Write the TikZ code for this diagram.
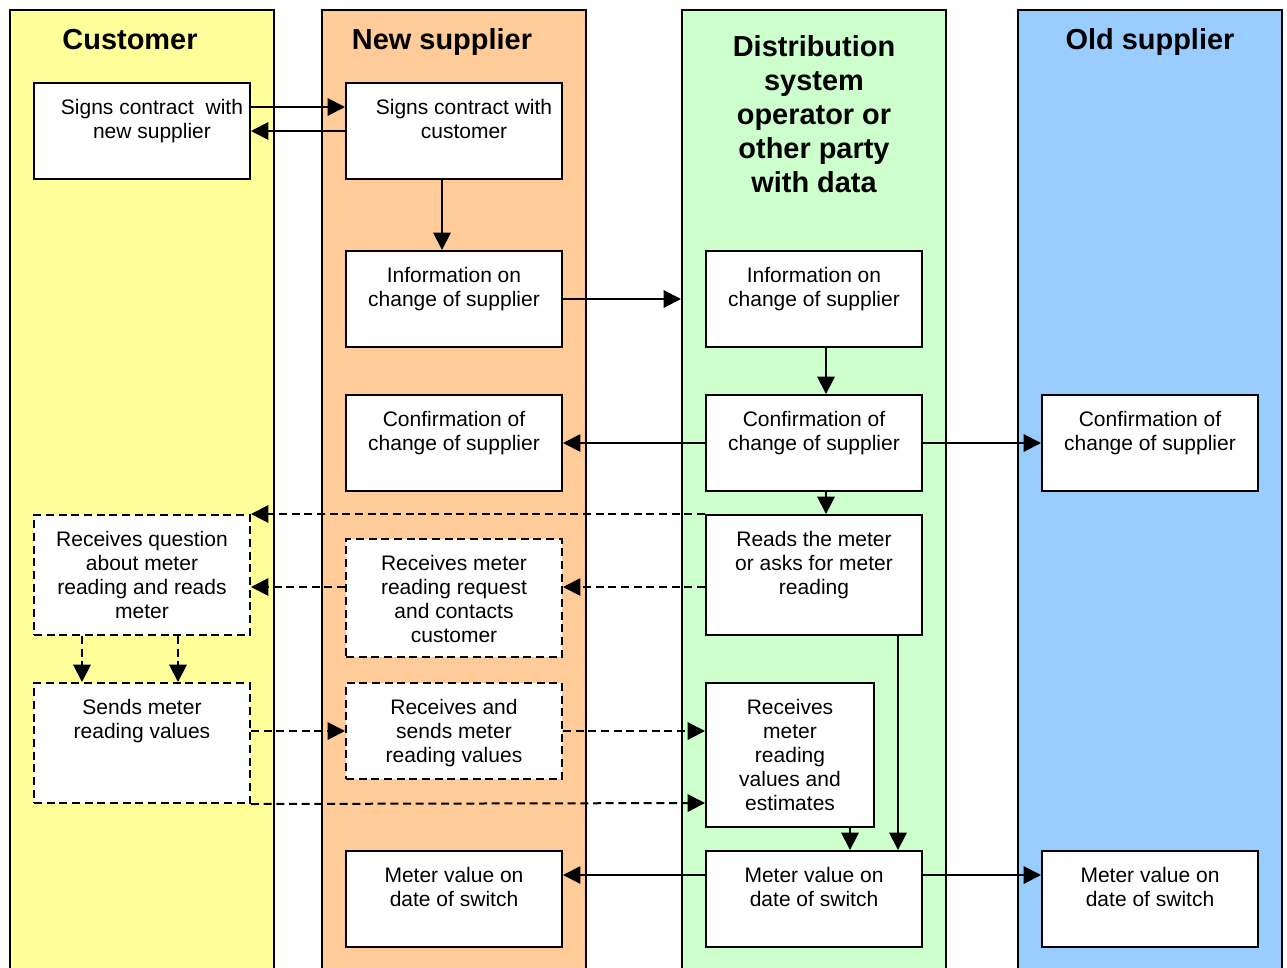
\documentclass[tikz,border=0pt]{standalone}
\usepackage{fontspec}
\setmainfont{Liberation Sans}
\usetikzlibrary{arrows.meta,calc}
\definecolor{cyel}{HTML}{FFFF99}
\definecolor{corg}{HTML}{FFCC99}
\definecolor{cgrn}{HTML}{CCFFCC}
\definecolor{cblu}{HTML}{99CCFF}
\tikzset{
  lane/.style={draw, line width=1.5pt, minimum width=198pt, minimum height=735pt, inner sep=0},
  hdr/.style={font=\fontsize{21.7pt}{25.5pt}\selectfont\bfseries, inner sep=0},
  box/.style={draw, fill=white, line width=1.5pt, minimum width=162pt, minimum height=72pt, inner sep=0},
  dbox/.style={box, dash pattern=on 6pt off 3.5pt},
  txt/.style={font=\fontsize{15.75pt}{18pt}\selectfont, align=center, anchor=north, inner sep=0},
  arr/.style={line width=1.5pt, -{Triangle[length=13pt,width=13pt]}},
  darr/.style={arr, dash pattern=on 6pt off 3.5pt},
}
\begin{document}
\begin{tikzpicture}[x=0.75pt,y=-0.75pt]
\clip (0,0) rectangle (1287,967);
% lanes
\node[lane, fill=cyel] (lc) at (142,500) {};
\node[lane, fill=corg] (ln) at (454,500) {};
\node[lane, fill=cgrn] (ld) at (814,500) {};
\node[lane, fill=cblu] (lo) at (1150,500) {};
% headers
\node[hdr, anchor=base] (hc) at (130,49.5) {Customer};
\node[hdr, anchor=base] (hn) at (442,49.5) {New supplier};
\node[hdr, anchor=north, align=center] (hd) at (814,35) {Distribution\\system\\operator or\\other party\\with data};
\node[hdr, anchor=base] (ho) at (1150,49.5) {Old supplier};
% boxes
\node[box] (c1) at (142,131) {};
\node[box] (n1) at (454,131) {};
\node[box] (n2) at (454,299) {};
\node[box] (d1) at (814,299) {};
\node[box] (n3) at (454,443) {};
\node[box] (d2) at (814,443) {};
\node[box] (o1) at (1150,443) {};
\node[dbox, minimum height=90pt] (c2) at (142,575) {};
\node[box, minimum height=90pt] (d3) at (814,575) {};
\node[dbox, minimum height=88.5pt] (n4) at (454,598) {};
\node[dbox, minimum height=90pt] (c3) at (142,743) {};
\node[dbox] (n5) at (454,731) {};
\node[box, minimum width=126pt, minimum height=108pt] (d4) at (790,755) {};
\node[box] (n6) at (454,899) {};
\node[box] (d5) at (814,899) {};
\node[box] (o2) at (1150,899) {};
% texts
\node[txt] (c1t) at ($(c1.north)+(10,17)$) {Signs contract~ with\\new supplier};
\node[txt] (n1t) at ($(n1.north)+(10,17)$) {Signs contract with\\customer};
\node[txt] (n2t) at ($(n2.north)+(0,17)$) {Information on\\change of supplier};
\node[txt] (d1t) at ($(d1.north)+(0,17)$) {Information on\\change of supplier};
\node[txt] (n3t) at ($(n3.north)+(0,17)$) {Confirmation of\\change of supplier};
\node[txt] (d2t) at ($(d2.north)+(0,17)$) {Confirmation of\\change of supplier};
\node[txt] (o1t) at ($(o1.north)+(0,17)$) {Confirmation of\\change of supplier};
\node[txt] (c2t) at ($(c2.north)+(0,17)$) {Receives question\\about meter\\reading and reads\\meter};
\node[txt] (d3t) at ($(d3.north)+(0,17)$) {Reads the meter\\or asks for meter\\reading};
\node[txt] (n4t) at ($(n4.north)+(0,17)$) {Receives meter\\reading request\\and contacts\\customer};
\node[txt] (c3t) at ($(c3.north)+(0,17)$) {Sends meter\\reading values};
\node[txt] (n5t) at ($(n5.north)+(0,17)$) {Receives and\\sends meter\\reading values};
\node[txt] (d4t) at ($(d4.north)+(0,17)$) {Receives\\meter\\reading\\values and\\estimates};
\node[txt] (n6t) at ($(n6.north)+(0,17)$) {Meter value on\\date of switch};
\node[txt] (d5t) at ($(d5.north)+(0,17)$) {Meter value on\\date of switch};
\node[txt] (o2t) at ($(o2.north)+(0,17)$) {Meter value on\\date of switch};
% connectors
\draw[arr] ($(c1.east)+(0,-24)$) -- ($(n1.west)+(0,-24)$);
\draw[arr] (n1.west) -- (c1.east);
\draw[arr] ($(n1.south)+(-12,0)$) -- ($(n2.north)+(-12,0)$);
\draw[arr] (n2.east) -- (n2.east -| ld.west);
\draw[arr] ($(d1.south)+(12,0)$) -- ($(d2.north)+(12,0)$);
\draw[arr] (d2.west) -- (n3.east);
\draw[arr] (d2.east) -- (o1.west);
\draw[arr] ($(d2.south)+(12,0)$) -- ($(d3.north)+(12,0)$);
\draw[darr] (d3.north west) -- (c2.north east);
\draw[darr] ($(d3.west)+(0,12)$) -- ($(n4.east)+(0,-11)$);
\draw[darr] ($(n4.west)+(0,-11)$) -- ($(c2.east)+(0,12)$);
\draw[darr] ($(c2.south)+(-60,0)$) -- ($(c3.north)+(-60,0)$);
\draw[darr] ($(c2.south)+(36,0)$) -- ($(c3.north)+(36,0)$);
\draw[darr] ($(c3.east)+(0,-12)$) -- (n5.west);
\draw[darr] (n5.east) -- ($(d4.west)+(0,-24)$);
\draw[darr] (c3.south east) -- ($(d4.west)+(0,48)$);
\draw[arr] ($(d4.south)+(60,0)$) -- ($(d5.north)+(36,0)$);
\draw[arr] ($(d3.south)+(84,0)$) -- ($(d5.north)+(84,0)$);
\draw[arr] ($(d5.west)+(0,-24)$) -- ($(n6.east)+(0,-24)$);
\draw[arr] ($(d5.east)+(0,-24)$) -- ($(o2.west)+(0,-24)$);
\end{tikzpicture}
\end{document}
